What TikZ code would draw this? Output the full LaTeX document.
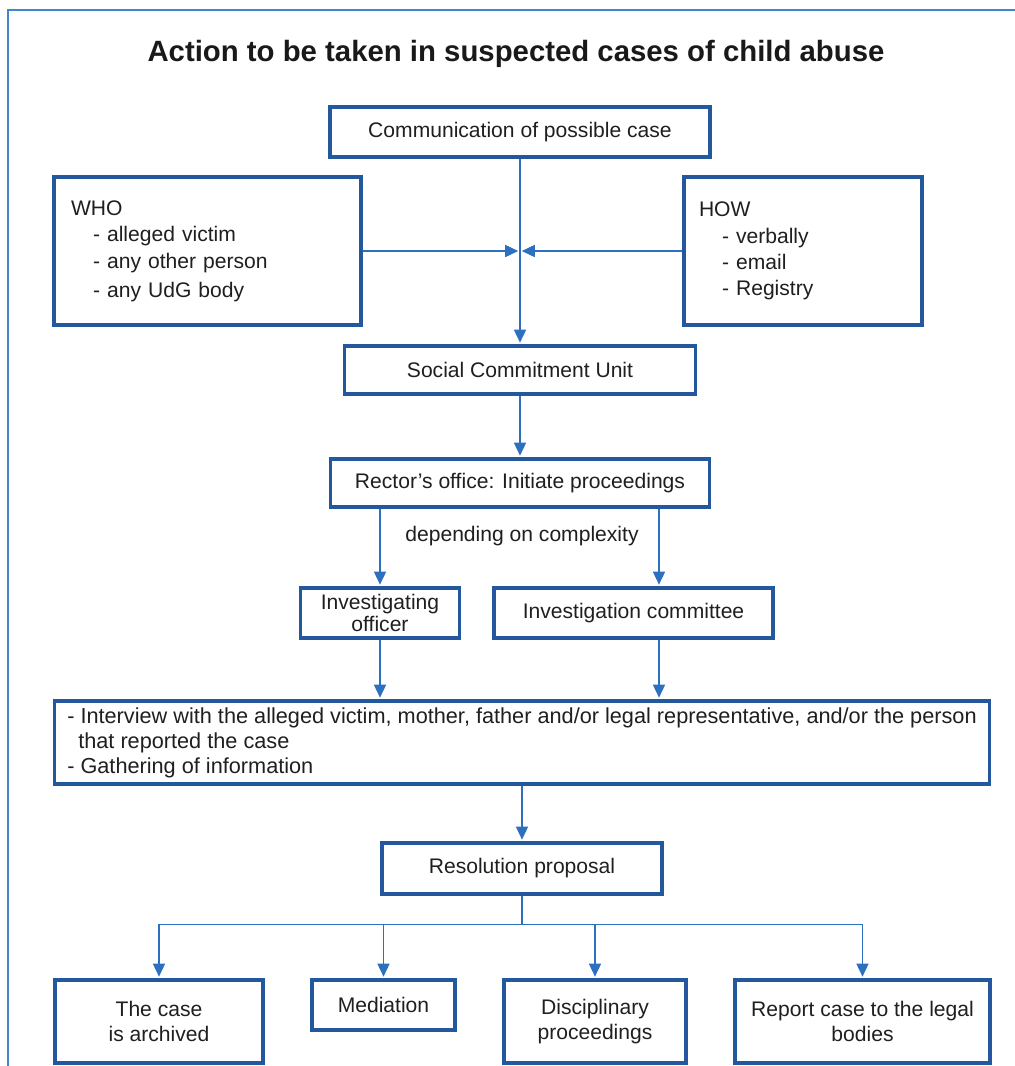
\documentclass[tikz,border=0pt]{standalone}
\usepackage{fontspec}
\setmainfont{Liberation Sans}
\usepackage{xcolor}
\usetikzlibrary{arrows.meta,calc}

\definecolor{boxblue}{RGB}{36,88,156}
\definecolor{linkblue}{RGB}{46,112,192}
\definecolor{frameblue}{RGB}{66,134,204}

\begin{document}
\begin{tikzpicture}[
    x=0.02cm, y=-0.02cm,
    box/.style={rectangle, draw=boxblue, line width=1.8pt, align=center, text=black!88, font=\fontsize{12}{14}\selectfont, inner sep=2pt},
    listbox/.style={box, align=left, font=\fontsize{12}{15}\selectfont},
    link/.style={draw=linkblue, line width=0.9pt},
    arrow/.style={link, -{Triangle[length=2.6mm, width=2.4mm]}, shorten >=1pt},
]
\useasboundingbox (0,0) rectangle (1015,1066);
\draw[frameblue, line width=1.2pt] (8,1066) |- (1015,10);

\node[font=\bfseries\fontsize{16.7}{20}\selectfont, text=black!90] (title) at (516,54) {Action to be taken in suspected cases of child abuse};

\node[box, minimum width=7.6cm, minimum height=1.0cm] (comm) at (520,132) {Communication of possible case};
\node[listbox, minimum width=6.14cm, minimum height=2.96cm, text width=5.46cm, inner xsep=0.34cm] (who) at (207.5,251)
    {WHO\\\hspace*{0.44cm}- alleged victim\\\hspace*{0.44cm}- any other person\\[1.5pt]\hspace*{0.44cm}- any UdG body};
\node[listbox, minimum width=4.76cm, minimum height=2.96cm, text width=4.16cm, inner xsep=0.3cm] (how) at (803,251)
    {HOW\\\hspace*{0.46cm}- verbally\\\hspace*{0.46cm}- email\\\hspace*{0.46cm}- Registry};
\node[box, minimum width=7.02cm, minimum height=0.96cm] (scu) at (520,370) {Social Commitment Unit};
\node[box, minimum width=7.58cm, minimum height=0.96cm] (rector) at (520,483) {Rector’s office: Initiate proceedings};
\node[font=\fontsize{12}{14}\selectfont, text=black!88] (depends) at (522,536) {depending on complexity};
\node[box, minimum width=3.18cm, minimum height=1.0cm, font=\fontsize{12}{10.5}\selectfont] (officer) at (380,613) {Investigating\\officer};
\node[box, minimum width=5.58cm, minimum height=1.0cm] (committee) at (633.5,613) {Investigation committee};
\coordinate (colR) at (659,545);

\node[listbox, minimum width=18.72cm, minimum height=1.66cm, font=\fontsize{12.35}{14.2}\selectfont] (interview) at (522,742.5)
    {- Interview with the alleged victim, mother, father and/or legal representative, and/or the person\\\hspace*{0.22cm}that reported the case\\- Gathering of information};
\node[box, minimum width=5.6cm, minimum height=1.02cm] (resolution) at (522,868.5) {Resolution proposal};
\coordinate (fork) at ($(resolution.south)+(0,29)$);

\node[box, minimum width=4.16cm, minimum height=1.66cm] (archived) at (159,1021.5) {The case\\is archived};
\node[box, minimum width=2.86cm, minimum height=1.0cm] (mediation) at (383.5,1005) {Mediation};
\node[box, minimum width=3.64cm, minimum height=1.66cm] (disciplinary) at (595,1021.5) {Disciplinary\\proceedings};
\node[box, minimum width=5.1cm, minimum height=1.66cm] (report) at (862.5,1021.5) {Report case to the legal\\bodies};

\draw[arrow] (comm) -- (scu);
\draw[arrow] (who) -- (who -| comm);
\draw[arrow] (how) -- (how -| comm);
\draw[arrow] (scu) -- (rector);
\draw[arrow] (rector.south -| officer) -- (officer);
\draw[arrow] (rector.south -| colR) -- (committee.north -| colR);
\draw[arrow] (officer) -- (officer |- interview.north);
\draw[arrow] (committee.south -| colR) -- (interview.north -| colR);
\draw[arrow] (interview) -- (resolution);
\draw[link] (resolution) -- (fork);
\draw[arrow] (fork) -| (archived);
\draw[arrow] (fork) -| (mediation);
\draw[arrow] (fork) -| (disciplinary);
\draw[arrow] (fork) -| (report);
\end{tikzpicture}
\end{document}
